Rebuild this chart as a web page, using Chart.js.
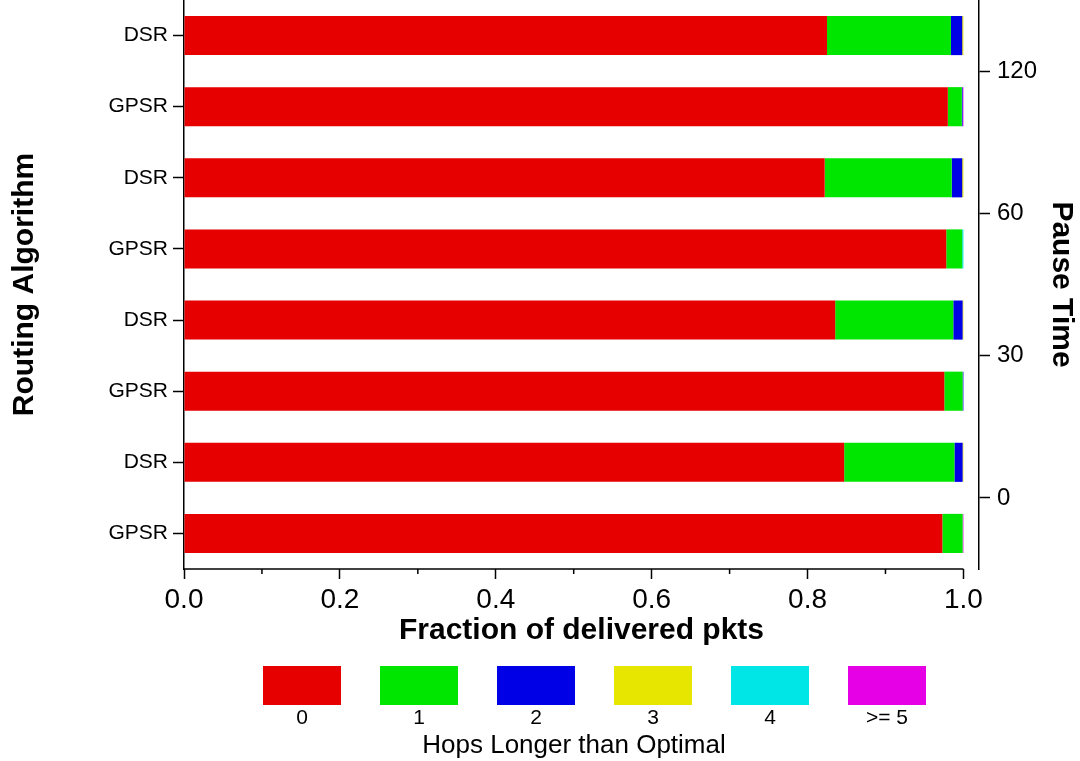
<!DOCTYPE html>
<html><head><meta charset="utf-8">
<script src="https://cdn.jsdelivr.net/npm/chart.js@4.4.1/dist/chart.umd.min.js"></script>
<style>html,body{margin:0;padding:0;background:#fff;}#wrap{width:1080px;height:761px;}</style>
</head><body><div id="wrap"><canvas id="c" width="1080" height="761"></canvas></div>
<script>
// ---- data (top to bottom) ----
const categories = ['DSR','GPSR','DSR','GPSR','DSR','GPSR','DSR','GPSR'];
const pauseTimes = ['120','60','30','0'];
const hopLabels = ['0','1','2','3','4','>= 5'];
const hops0 = [0.825, 0.980, 0.822, 0.978, 0.8355, 0.9755, 0.847, 0.973];
const hops1 = [0.159, 0.018, 0.163, 0.0205, 0.1515, 0.0235, 0.1415, 0.026];
const hops2 = [0.0145, 0.001, 0.0135, 0.0, 0.012, 0.001, 0.0105, 0.0];
const hops3 = [0.0015, 0.0, 0.0015, 0.0, 0.001, 0.0, 0.001, 0.0];
const hops4 = [0.0, 0.0, 0.0, 0.0015, 0.0, 0.0, 0.0, 0.0];
const hops5 = [0.0, 0.001, 0.0, 0.0, 0.0, 0.0, 0.0, 0.001];
const hopColors = ['rgb(230,0,0)','rgb(0,230,0)','rgb(0,0,230)','rgb(230,230,0)','rgb(0,230,230)','rgb(230,0,230)'];
const xTitle = 'Fraction of delivered pkts';
const yTitle = 'Routing Algorithm';
const y2Title = 'Pause Time';
const legendTitle = 'Hops Longer than Optimal';

const FONT = "'Liberation Sans', Arial, sans-serif";
const series = [hops0, hops1, hops2, hops3, hops4, hops5];

const axisDeco = {
  id: 'axisDeco',
  afterDraw(chart) {
    const ctx = chart.ctx, xs = chart.scales.x, area = chart.chartArea;
    ctx.save();
    ctx.strokeStyle = '#000'; ctx.lineWidth = 1.5;
    // x axis baseline from 0 to 1
    ctx.beginPath();
    ctx.moveTo(xs.getPixelForValue(0), area.bottom);
    ctx.lineTo(xs.getPixelForValue(1), area.bottom);
    ctx.stroke();
    // minor ticks
    xs.ticks.forEach(t => {
      const k = Math.round(t.value * 10);
      if (k % 2 === 1) {
        const px = xs.getPixelForValue(t.value);
        ctx.beginPath(); ctx.moveTo(px, area.bottom); ctx.lineTo(px, area.bottom + 5); ctx.stroke();
      }
    });
    // legend
    const ds = chart.data.datasets;
    const boxW = 78, boxH = 39, step = 117, x0 = 263, y0 = 666;
    ds.forEach((d, i) => {
      const bx = x0 + i * step;
      ctx.fillStyle = d.backgroundColor;
      ctx.fillRect(bx, y0, boxW, boxH);
      ctx.fillStyle = '#000';
      ctx.font = '21px ' + FONT;
      ctx.textAlign = 'center'; ctx.textBaseline = 'middle';
      ctx.fillText(d.label, bx + boxW / 2, 718);
    });
    ctx.font = '26px ' + FONT;
    ctx.fillStyle = '#000';
    ctx.textAlign = 'center'; ctx.textBaseline = 'middle';
    ctx.fillText(legendTitle, 574, 746);
    ctx.restore();
  }
};

new Chart(document.getElementById('c'), {
  type: 'bar',
  data: {
    labels: categories,
    datasets: series.map((s, i) => ({
      label: hopLabels[i], data: s, backgroundColor: hopColors[i],
      borderWidth: 0, barPercentage: 0.55, categoryPercentage: 1.0
    }))
  },
  options: {
    indexAxis: 'y',
    responsive: false,
    animation: false,
    devicePixelRatio: 1,
    layout: { padding: { top: 0, left: 0, right: 0, bottom: 112 } },
    plugins: { legend: { display: false }, tooltip: { enabled: false } },
    scales: {
      x: {
        type: 'linear', min: 0, max: 1.02, stacked: true, position: 'bottom',
        afterBuildTicks: s => { s.ticks = s.ticks.filter(t => t.value <= 1.0001); },
        ticks: {
          stepSize: 0.1, includeBounds: false, autoSkip: false, maxRotation: 0, color: '#000', padding: 4,
          font: { family: FONT, size: 28 },
          callback: v => (Math.round(v * 10) % 2 === 0 ? v.toFixed(1) : '')
        },
        grid: {
          drawOnChartArea: false, drawTicks: true, tickLength: 10, tickWidth: 1.5,
          tickColor: c => (Math.round(c.tick.value * 10) % 2 === 0 ? '#000' : 'rgba(0,0,0,0)')
        },
        border: { display: false },
        title: { display: true, text: xTitle, color: '#000', padding: { top: 0, bottom: 0 },
                 font: { family: FONT, size: 30, weight: 'bold' } },
        afterFit: s => { s.height = 80; }
      },
      y: {
        type: 'category', stacked: true, position: 'left', offset: true,
        grid: { drawOnChartArea: false, offset: false, drawTicks: true, tickLength: 11, tickColor: '#000', tickWidth: 1.5 },
        border: { display: true, color: '#000', width: 1.5 },
        ticks: { color: '#000', padding: 5, font: { family: FONT, size: 21 } },
        title: { display: true, text: yTitle, color: '#000', padding: { top: 7, bottom: 0 },
                 font: { family: FONT, size: 30, weight: 'bold' } },
        afterFit: s => { s.width = 184; s.paddingTop = 0; s.paddingBottom = 0; }
      },
      y2: {
        type: 'category', labels: pauseTimes, position: 'right', offset: true,
        grid: { drawOnChartArea: false, offset: false, drawTicks: true, tickLength: 11, tickColor: '#000', tickWidth: 1.5 },
        border: { display: true, color: '#000', width: 1.5 },
        ticks: { color: '#000', padding: 7, font: { family: FONT, size: 24 } },
        title: { display: true, text: y2Title, color: '#000', padding: { top: 1, bottom: 0 },
                 font: { family: FONT, size: 30, weight: 'bold' } },
        afterFit: s => { s.width = 101; s.paddingTop = 0; s.paddingBottom = 0; }
      }
    }
  },
  plugins: [axisDeco]
});
</script>
</body></html>
